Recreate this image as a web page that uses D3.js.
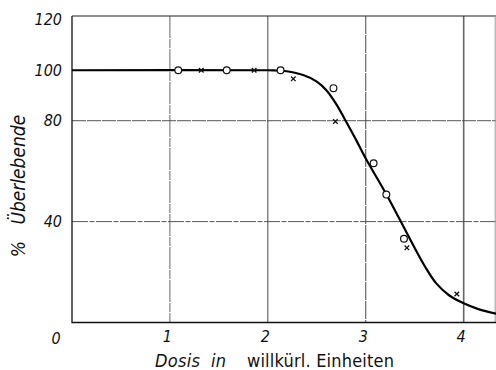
<!DOCTYPE html>
<html>
<head>
<meta charset="utf-8">
<script src="https://cdn.jsdelivr.net/npm/d3@7"></script>
<style>
  html, body { margin: 0; padding: 0; background: #fff; }
  svg { display: block; }
  text { fill: #111; }
</style>
</head>
<body>
<svg id="chart" width="496" height="370"></svg>
<script>
// Survival (%) against dose in arbitrary units
const yTicks = [40, 80, 100, 120];
const xTicks = [1, 2, 3, 4];
const hGrid = [40, 80];

// fitted survival curve
const curveDose = [0, 2.0, 2.15, 2.36, 2.5, 2.6, 2.7, 2.78, 2.9, 3.0, 3.2, 3.35, 3.5, 3.6, 3.72, 3.85, 4.0, 4.15, 4.33];
const curveSurv = [100, 100, 99.8, 98.1, 95.5, 92, 86.5, 81, 72.5, 65, 51.5, 40.6, 29.5, 22.5, 15.5, 10.8, 7.6, 5.3, 3.5];

// measured points, series 1 (open circles)
const circleDose = [1.085, 1.58, 2.13, 2.67, 3.08, 3.21, 3.39];
const circleSurv = [100, 100, 100, 92.9, 63.1, 50.7, 33.2];

// measured points, series 2 (crosses)
const crossDose = [1.32, 1.86, 2.26, 2.69, 3.42, 3.93];
const crossSurv = [100, 100, 96.6, 79.7, 29.6, 11.3];

const svg = d3.select("#chart");
const x = d3.scaleLinear().domain([0, 4.33]).range([72, 496]);
const y = d3.scaleLinear().domain([0, 121.5]).range([322.5, 16]);

const numFont = "'DejaVu Sans Condensed', 'DejaVu Sans', sans-serif";

// grid
const grid = svg.append("g").attr("fill", "none");
grid.selectAll("line.v").data(xTicks).join("line")
  .attr("x1", d => x(d)).attr("x2", d => x(d))
  .attr("y1", y(121.5)).attr("y2", y(0))
  .attr("stroke", (d, i) => i === 3 ? "#666" : i === 0 ? "#555" : "#333")
  .attr("stroke-width", (d, i) => i === 3 ? 1.6 : 0.9)
  .attr("stroke-dasharray", (d, i) => i === 0 ? "22,1,9,1" : i === 2 ? "18,1" : null);
grid.selectAll("line.h").data(hGrid).join("line")
  .attr("x1", x(0)).attr("x2", x(4.33))
  .attr("y1", d => y(d)).attr("y2", d => y(d))
  .attr("stroke", "#444").attr("stroke-width", 0.9)
  .attr("stroke-dasharray", d => d === 40 ? "16,1.5,5,1.5" : "14,1");

// frame
svg.append("line").attr("x1", x(0)).attr("x2", x(4.33)).attr("y1", y(121.5)).attr("y2", y(121.5))
  .attr("stroke", "#222").attr("stroke-width", 1.2);
svg.append("line").attr("x1", x(4.33) - 0.8).attr("x2", x(4.33) - 0.8).attr("y1", y(121.5)).attr("y2", y(0))
  .attr("stroke", "#999").attr("stroke-width", 1);

// axes (labels only, lines drawn separately)
const yAxis = svg.append("g").attr("transform", `translate(${x(0)},0)`)
  .call(d3.axisLeft(y).tickValues(yTicks).tickSize(0).tickPadding(10).tickFormat(d3.format("d")));
yAxis.select(".domain").remove();
yAxis.selectAll("text").attr("font-family", numFont).attr("font-style", "italic")
  .attr("font-size", 16).attr("fill", "#111");

const xAxis = svg.append("g").attr("transform", `translate(0,${y(0)})`)
  .call(d3.axisBottom(x).tickValues(xTicks).tickSize(0).tickPadding(8).tickFormat(d3.format("d")));
xAxis.select(".domain").remove();
xAxis.selectAll("text").attr("font-family", numFont).attr("font-style", "italic")
  .attr("font-size", 16).attr("fill", "#111").attr("dx", -3);

svg.append("text").attr("x", 56).attr("y", 344).attr("text-anchor", "middle")
  .attr("font-family", numFont).attr("font-style", "italic").attr("font-size", 16).text("0");

svg.append("line").attr("x1", x(0)).attr("x2", x(0)).attr("y1", y(121.5)).attr("y2", y(0) + 0.7)
  .attr("stroke", "#111").attr("stroke-width", 1.3);
svg.append("line").attr("x1", x(0)).attr("x2", x(4.33)).attr("y1", y(0)).attr("y2", y(0))
  .attr("stroke", "#111").attr("stroke-width", 1.5);

// curve
const line = d3.line().x(d => x(d[0])).y(d => y(d[1])).curve(d3.curveCatmullRom.alpha(0.5));
svg.append("path").datum(curveDose.map((d, i) => [d, curveSurv[i]]))
  .attr("d", line).attr("fill", "none").attr("stroke", "#000").attr("stroke-width", 2.2);

// markers
svg.append("g").selectAll("circle").data(circleDose.map((d, i) => [d, circleSurv[i]])).join("circle")
  .attr("cx", d => x(d[0])).attr("cy", d => y(d[1])).attr("r", 3.4)
  .attr("fill", "#fff").attr("stroke", "#111").attr("stroke-width", 1.2);

const cs = 2.3;
svg.append("g").selectAll("path").data(crossDose.map((d, i) => [d, crossSurv[i]])).join("path")
  .attr("d", d => {
    const cx = x(d[0]), cy = y(d[1]);
    return `M${cx - cs},${cy - cs}L${cx + cs},${cy + cs}M${cx - cs},${cy + cs}L${cx + cs},${cy - cs}`;
  })
  .attr("stroke", "#111").attr("stroke-width", 1.3).attr("fill", "none");

// axis titles
svg.append("text")
  .attr("transform", "translate(25,186) rotate(-90)")
  .attr("text-anchor", "middle")
  .attr("font-family", numFont).attr("font-style", "italic").attr("font-size", 19)
  .text("%\u00a0\u00a0\u00a0Überlebende");

const xt = svg.append("text").attr("y", 367).attr("font-family", numFont).attr("font-size", 18);
xt.append("tspan").attr("x", 155).attr("font-style", "italic")
  .attr("textLength", 71).attr("lengthAdjust", "spacing").text("Dosis\u00a0\u00a0in");
xt.append("tspan").attr("x", 247)
  .attr("textLength", 147).attr("lengthAdjust", "spacing").text("willkürl. Einheiten");
</script>
</body>
</html>
